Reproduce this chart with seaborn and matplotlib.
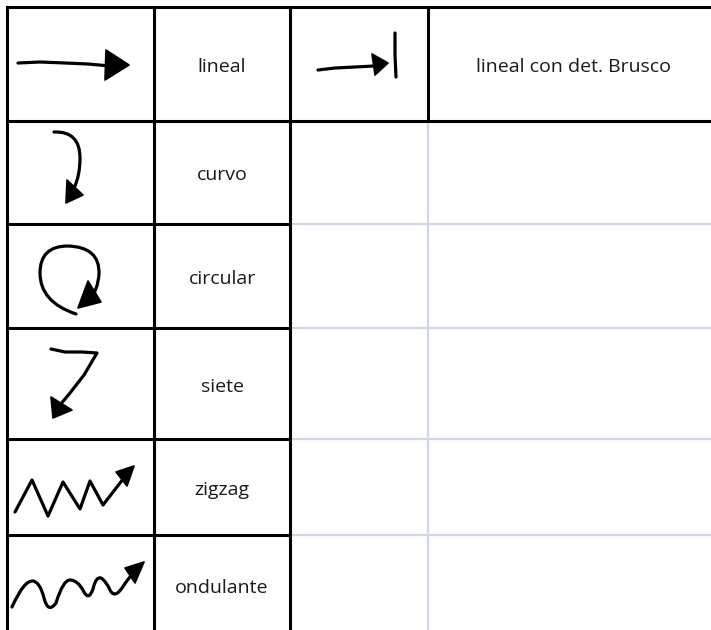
import matplotlib
matplotlib.use("Agg")
import matplotlib.pyplot as plt
from matplotlib.path import Path
from matplotlib.patches import PathPatch
import seaborn as sns

# table content
labels = ["lineal", "curvo", "circular", "siete", "zigzag", "ondulante"]
extra_label = "lineal con det. Brusco"

# hand drawn arrow strokes (pixel coords of the page, y down)
# straight strokes -> polylines
stroke_lineal = [(18, 63), (40, 62), (65, 63), (88, 64), (110, 66)]
head_lineal = [(106, 50), (129, 65), (105, 80)]

stroke_brusco = [(318, 70), (335, 68), (355, 67), (374, 66)]
head_brusco = [(372, 54), (388, 63), (375, 75)]
bar_brusco = [(395, 33), (395, 55), (396, 77)]

stroke_siete = [(51, 349), (65, 352), (82, 352), (97, 353), (84, 375), (70, 393), (60, 405)]
head_siete = [(51, 397), (72, 410), (53, 418)]

stroke_zig = [(15, 512), (32, 480), (48, 516), (63, 482), (80, 509), (90, 481), (103, 505), (127, 474)]
head_zig = [(116, 472), (134, 466), (127, 486)]

# curved strokes -> start point then (control, end) pairs of quadratic curves
curve_curvo = [(54, 132), (80, 131), (80, 158), (80, 176), (74, 188)]
head_curvo = [(67, 180), (83, 195), (66, 203)]

curve_circ = [(76, 314), (40, 302), (40, 273), (40, 246), (68, 246),
              (100, 247), (99, 274), (98, 290), (89, 301)]
head_circ = [(88, 281), (101, 302), (78, 308)]

curve_ond = [(12, 607), (24, 580), (33, 581), (40, 582), (44, 598),
             (48, 614), (56, 603), (63, 580), (70, 580), (78, 580), (84, 592),
             (89, 601), (93, 589), (96, 576), (101, 578), (106, 581), (110, 590),
             (115, 600), (124, 585), (130, 576), (137, 569)]
head_ond = [(125, 568), (144, 562), (135, 583)]

strokes = [stroke_lineal, stroke_brusco, bar_brusco, stroke_siete, stroke_zig]
curves = [curve_curvo, curve_circ, curve_ond]
heads = [head_lineal, head_brusco, head_curvo, head_circ, head_siete, head_zig, head_ond]

# table geometry
col_x = [7, 154, 290, 428]
row_y = [7, 121, 224, 328, 439, 535]
right, bottom = 711, 630
dark = "#000000"
light = "#cfd8e5"

sns.set_theme(style="white")
plt.rcParams["font.family"] = ["Open Sans", "DejaVu Sans"]

fig = plt.figure(figsize=(7.11, 6.30), dpi=100)
ax = fig.add_axes([0, 0, 1, 1])

# light grid for the empty right part
for y in row_y[2:]:
    ax.plot([col_x[2], right], [y, y], color=light, lw=1.6, solid_capstyle="butt")
ax.plot([col_x[3], col_x[3]], [row_y[1], bottom], color=light, lw=1.6, solid_capstyle="butt")

# black borders
ax.plot([col_x[0], right], [row_y[0], row_y[0]], color=dark, lw=2.2, solid_capstyle="projecting")
ax.plot([col_x[0], right], [row_y[1], row_y[1]], color=dark, lw=2.2, solid_capstyle="butt")
for y in row_y[2:]:
    ax.plot([col_x[0], col_x[2]], [y, y], color=dark, lw=2.2, solid_capstyle="butt")
for x in col_x[:3]:
    ax.plot([x, x], [row_y[0], bottom], color=dark, lw=2.2, solid_capstyle="butt")
ax.plot([col_x[3], col_x[3]], [row_y[0], row_y[1]], color=dark, lw=2.2, solid_capstyle="butt")

# arrows
for s in strokes:
    xs, ys = zip(*s)
    sns.lineplot(x=list(xs), y=list(ys), sort=False, estimator=None, color="black",
                 lw=2.3, ax=ax, solid_capstyle="round", solid_joinstyle="round")
for c in curves:
    codes = [Path.MOVETO] + [Path.CURVE3] * (len(c) - 1)
    ax.add_patch(PathPatch(Path(c, codes), fill=False, edgecolor="black", lw=2.3,
                           capstyle="round", joinstyle="round"))
for h in heads:
    xs, ys = zip(*h)
    ax.fill(xs, ys, color="black", lw=1.2, joinstyle="round")

# text
row_mid = [(row_y[i] + row_y[i + 1]) / 2 for i in range(len(row_y) - 1)] + [585]
for lab, ym in zip(labels, row_mid):
    ax.text((col_x[1] + col_x[2]) / 2, ym + 3, lab, ha="center", va="center",
            fontsize=14, color="#1a1a1a")
ax.text((col_x[3] + right) / 2 + 4, row_mid[0] + 3, extra_label, ha="center", va="center",
        fontsize=14, color="#1a1a1a")

ax.set_xlim(0, right)
ax.set_ylim(bottom, 0)
ax.axis("off")
fig.savefig("out.png", dpi=100, facecolor="white")
